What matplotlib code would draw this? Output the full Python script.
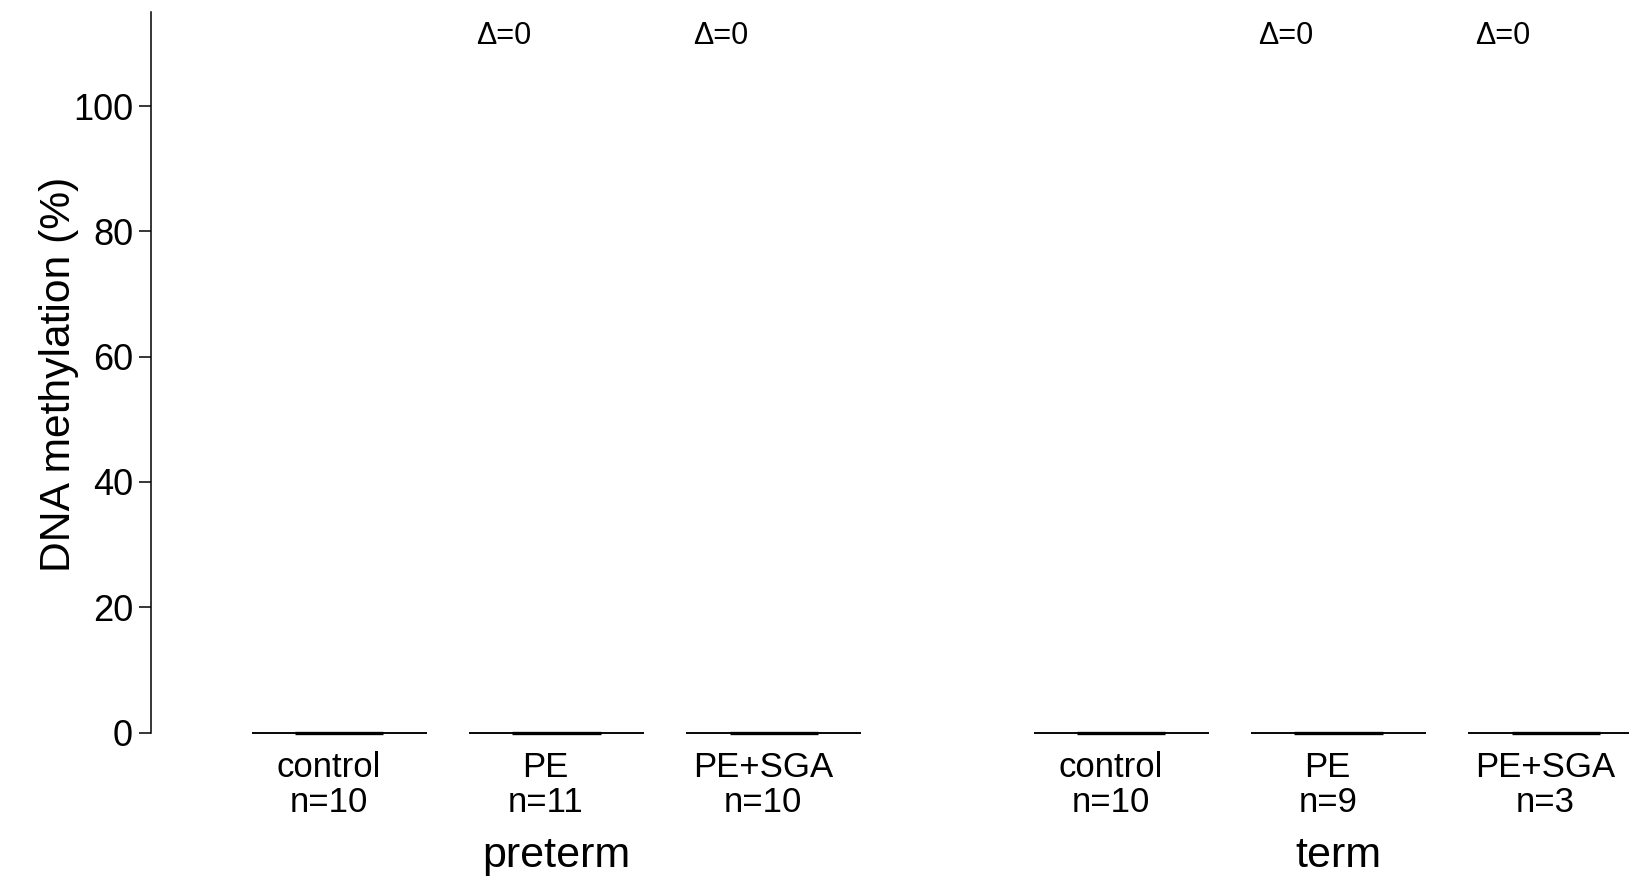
import matplotlib
matplotlib.use("Agg")
import matplotlib.pyplot as plt
import matplotlib.transforms as mtransforms

plt.rcParams['font.family'] = ['Liberation Sans', 'DejaVu Sans']

# ---- data ----
groups = ["preterm", "term"]
categories = ["control", "PE", "PE+SGA", "control", "PE", "PE+SGA"]
n_values = [10, 11, 10, 10, 9, 3]
positions = [1, 2, 3, 4.6, 5.6, 6.6]
medians = [0, 0, 0, 0, 0, 0]
q1 = [0, 0, 0, 0, 0, 0]
q3 = [0, 0, 0, 0, 0, 0]
delta_labels = ["", "Δ=0", "Δ=0", "", "Δ=0", "Δ=0"]
yticks = [0, 20, 40, 60, 80, 100]

# ---- styling ----
W, H = 1629, 885
fig = plt.figure(figsize=(W / 100, H / 100), dpi=100)
left = 150.6 / W
bottom = 1 - 732.5 / H
top = 1 - 12.3 / H
ax = fig.add_axes([left, bottom, 1 - left, top - bottom])
ax.set_xlim(0.181, 6.987)
ax.set_ylim(0, 115)

box_shift = 0.05
box_half = 0.403
med_half = 0.203

for p, m, a, b in zip(positions, medians, q1, q3):
    c = p + box_shift
    ax.plot([c - box_half, c + box_half], [a, a], color="black", lw=1.1,
            solid_capstyle="butt", clip_on=False)
    ax.plot([c - box_half, c + box_half], [b, b], color="black", lw=1.1,
            solid_capstyle="butt", clip_on=False)
    ax.plot([c - med_half, c + med_half], [m, m], color="black", lw=2.4,
            solid_capstyle="butt", clip_on=False)

for p, d in zip(positions, delta_labels):
    if d:
        ax.text(p - 0.195, 110, d, ha="center", va="baseline", fontsize=22)

ax.set_yticks(yticks)
ax.set_yticklabels([str(t) for t in yticks], fontsize=26)
ax.tick_params(axis="y", length=8.6, width=1.1, pad=4, colors="black")

ax.set_xticks(positions)
ax.set_xticklabels([f"{c}\nn={n}" for c, n in zip(categories, n_values)],
                   fontsize=25)
for lbl in ax.get_xticklabels():
    lbl.set_linespacing(1.11)
ax.tick_params(axis="x", length=0, pad=13)

for s in ["top", "right", "bottom"]:
    ax.spines[s].set_visible(False)
ax.spines["left"].set_bounds(0, 115)
ax.spines["left"].set_linewidth(1.1)

trans = mtransforms.blended_transform_factory(ax.transData, fig.transFigure)
for gi, g in enumerate(groups):
    gp = positions[gi * 3:(gi + 1) * 3]
    cx = sum(gp) / len(gp) + box_shift
    ax.text(cx, 1 - 867 / H, g, ha="center", va="baseline", fontsize=31,
            transform=trans)

fig.text(59.5 / W, 1 - 374 / H, "DNA methylation (%)", rotation=90,
         ha="center", va="center", fontsize=30.7)

fig.savefig("out.png", dpi=100)
